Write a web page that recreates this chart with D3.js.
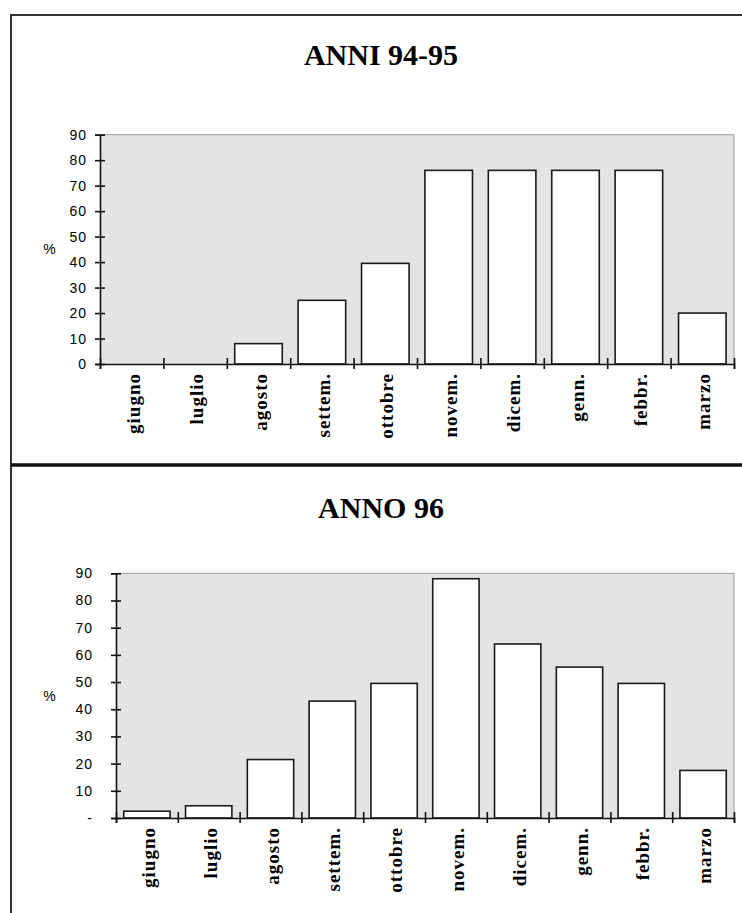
<!DOCTYPE html>
<html lang="it">
<head>
    <meta charset="UTF-8">
    <title>ANNI 94-95 / ANNO 96</title>
    <script src="https://d3js.org/d3.v7.min.js"></script>
    <style>
        body { margin: 0; background: #fff; }
        .title { font-family: "Liberation Serif", "Times New Roman", serif; font-weight: bold; font-size: 30px; }
        .ylab text, .pct { font-family: "Liberation Sans", Arial, sans-serif; font-size: 14px; letter-spacing: 1px; fill: #000; }
        .xlab { font-family: "Liberation Serif", "Times New Roman", serif; font-weight: bold; font-size: 19px; letter-spacing: 1px; }
        .bar { fill: #fff; stroke: #1a1a1a; stroke-width: 1.6px; }
    </style>
</head>
<body>
    <svg width="742" height="913"></svg>

    <script>
        const months = ["giugno", "luglio", "agosto", "settem.", "ottobre", "novem.", "dicem.", "genn.", "febbr.", "marzo"];
        const values9495 = [0, 0, 8, 25, 39.5, 76, 76, 76, 76, 20];
        const values96 = [2.5, 4.5, 21.5, 43, 49.5, 88, 64, 55.5, 49.5, 17.5];
        const yTicks = [0, 10, 20, 30, 40, 50, 60, 70, 80, 90];
        const yLabels9495 = ["0", "10", "20", "30", "40", "50", "60", "70", "80", "90"];
        const yLabels96 = ["-", "10", "20", "30", "40", "50", "60", "70", "80", "90"];

        const svg = d3.select("svg");

        // frames of the two chart objects
        svg.append("rect")
            .attr("x", 11).attr("y", 15).attr("width", 800).attr("height", 450)
            .attr("fill", "none").attr("stroke", "#333").attr("stroke-width", 2);
        svg.append("rect")
            .attr("x", 11).attr("y", 465).attr("width", 800).attr("height", 500)
            .attr("fill", "none").attr("stroke", "#333").attr("stroke-width", 2);
        svg.append("line")
            .attr("x1", 11).attr("x2", 742).attr("y1", 465).attr("y2", 465)
            .attr("stroke", "#111").attr("stroke-width", 3.5);

        function drawChart(cfg) {
            const g = svg.append("g");
            const w = cfg.right - cfg.left;

            const x = d3.scaleBand()
                .domain(months)
                .range([cfg.left, cfg.right])
                .paddingInner(0.25)
                .paddingOuter(0.125);

            const y = d3.scaleLinear()
                .domain([0, 90])
                .range([cfg.bottom, cfg.top]);

            // category boundaries for the x ticks
            const xb = d3.scaleLinear().domain([0, months.length]).range([cfg.left, cfg.right]);

            g.append("text")
                .attr("class", "title")
                .attr("x", 381).attr("y", cfg.titleY)
                .attr("text-anchor", "middle")
                .text(cfg.title);

            // plot area
            g.append("rect")
                .attr("x", cfg.left).attr("y", y(90))
                .attr("width", w).attr("height", y(0) - y(90))
                .attr("fill", "#e4e4e4");
            g.append("path")
                .attr("d", `M${cfg.left},${y(90)}H${cfg.right}V${y(0)}`)
                .attr("fill", "none").attr("stroke", "#9a9a9a").attr("stroke-width", 1);

            g.selectAll(".bar")
                .data(cfg.values.map((v, i) => ({ m: months[i], v: v })).filter(d => d.v > 0))
                .enter().append("rect")
                .attr("class", "bar")
                .attr("x", d => x(d.m))
                .attr("y", d => y(d.v))
                .attr("width", x.bandwidth())
                .attr("height", d => y(0) - y(d.v));

            // y axis
            const yAxis = d3.axisLeft(y)
                .tickValues(yTicks)
                .tickFormat((d, i) => cfg.yLabels[i])
                .tickSize(5)
                .tickPadding(cfg.labelGap);
            g.append("g")
                .attr("class", "ylab")
                .attr("transform", `translate(${cfg.left},0)`)
                .call(yAxis)
                .call(a => a.select(".domain").attr("stroke", "#111").attr("stroke-width", 1.6))
                .call(a => a.selectAll(".tick line").attr("x1", 5).attr("stroke", "#111").attr("stroke-width", 1.6))
                .call(a => a.selectAll(".tick text").attr("font-size", null).attr("font-family", null));

            // x axis with ticks between categories
            const xAxis = d3.axisBottom(xb)
                .tickValues(d3.range(months.length + 1))
                .tickFormat("")
                .tickSize(5);
            g.append("g")
                .attr("transform", `translate(0,${y(0)})`)
                .call(xAxis)
                .call(a => a.select(".domain").attr("stroke", "#111").attr("stroke-width", 1.6))
                .call(a => a.selectAll(".tick line").attr("y1", -6).attr("stroke", "#111").attr("stroke-width", 1.6));

            g.selectAll(".xlab")
                .data(months)
                .enter().append("text")
                .attr("class", "xlab")
                .attr("text-anchor", "end")
                .attr("dy", "0.32em")
                .attr("transform", d => `translate(${x(d) + x.bandwidth() / 2 + 2},${y(0) + 9}) rotate(-90)`)
                .text(d => d);

            g.append("text")
                .attr("class", "pct")
                .attr("x", 50).attr("y", (y(0) + y(90)) / 2)
                .attr("dy", "0.35em")
                .attr("text-anchor", "middle")
                .text("%");
        }

        drawChart({ title: "ANNI 94-95", titleY: 65, values: values9495, yLabels: yLabels9495,
            left: 100, right: 734, top: 134.7, bottom: 364, labelGap: 8 });
        drawChart({ title: "ANNO 96", titleY: 518, values: values96, yLabels: yLabels96,
            left: 116, right: 734, top: 573.3, bottom: 818, labelGap: 18 });
    </script>
</body>
</html>
